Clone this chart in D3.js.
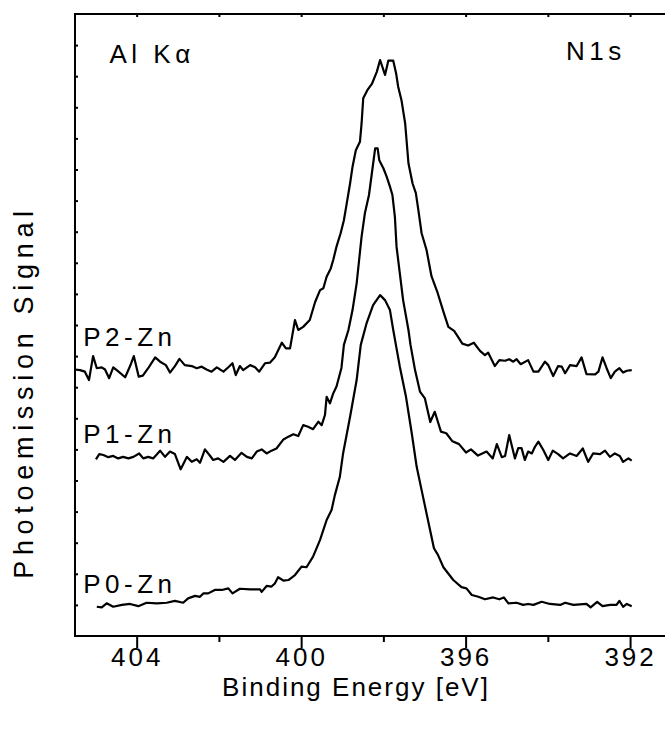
<!DOCTYPE html>
<html>
<head>
<meta charset="utf-8">
<script src="https://cdn.jsdelivr.net/npm/d3@7"></script>
<style>
  body { margin: 0; background: #fff; }
  text { font-family: "Liberation Sans", Arial, sans-serif; fill: #000; }
</style>
</head>
<body>
<div id="chart"></div>
<script>
// N1s spectra, binding energy [eV] vs signal (arb. units, offset per sample)
const p2Zn = [
  [405.50, 8.57], [405.38, 8.55], [405.26, 8.50], [405.16, 8.23], [405.06, 9.00], [404.97, 8.61],
  [404.85, 8.64], [404.77, 8.57], [404.67, 8.29], [404.57, 8.64], [404.47, 8.53], [404.28, 8.32],
  [404.16, 8.68], [404.07, 9.00], [403.95, 8.34], [403.85, 8.37], [403.72, 8.61], [403.55, 8.96],
  [403.43, 8.82], [403.29, 8.71], [403.19, 8.47], [403.07, 8.68], [402.96, 8.91], [402.83, 8.71],
  [402.66, 8.68], [402.54, 8.61], [402.42, 8.66], [402.30, 8.57], [402.18, 8.50], [402.05, 8.64],
  [401.89, 8.50], [401.77, 8.64], [401.67, 8.77], [401.59, 8.39], [401.49, 8.68], [401.41, 8.55],
  [401.24, 8.71], [401.12, 8.64], [401.02, 8.50], [400.88, 8.77], [400.76, 8.79], [400.64, 8.96],
  [400.47, 9.43], [400.37, 9.25], [400.27, 9.25], [400.15, 10.16], [400.07, 9.84], [399.95, 9.94],
  [399.79, 10.16], [399.66, 10.74], [399.54, 11.12], [399.46, 11.18], [399.38, 11.55], [399.28, 11.82],
  [399.22, 12.09], [399.14, 12.52], [399.04, 12.95], [398.96, 13.37], [398.89, 13.92], [398.81, 14.55],
  [398.75, 15.09], [398.67, 15.62], [398.57, 15.89], [398.53, 16.48], [398.49, 17.29], [398.39, 17.55],
  [398.28, 17.75], [398.16, 18.14], [398.08, 18.52], [397.96, 18.04], [397.88, 18.50], [397.76, 18.50],
  [397.69, 18.09], [397.64, 17.66], [397.56, 17.23], [397.47, 16.48], [397.39, 15.20], [397.29, 14.55],
  [397.21, 14.24], [397.15, 13.70], [397.07, 12.95], [396.95, 12.41], [396.83, 11.57], [396.68, 11.03],
  [396.54, 10.43], [396.42, 9.94], [396.28, 9.81], [396.18, 9.61], [396.08, 9.40], [395.94, 9.34],
  [395.80, 9.43], [395.65, 9.17], [395.53, 9.03], [395.45, 9.11], [395.29, 8.68], [395.18, 8.87],
  [395.04, 8.85], [394.94, 8.90], [394.84, 8.82], [394.76, 8.90], [394.66, 8.74], [394.48, 8.87],
  [394.35, 8.50], [394.23, 8.50], [394.07, 8.82], [393.99, 8.71], [393.87, 8.36], [393.75, 8.68],
  [393.66, 8.66], [393.58, 8.45], [393.46, 8.71], [393.30, 8.68], [393.18, 8.96], [393.06, 8.42],
  [392.85, 8.41], [392.77, 8.50], [392.67, 8.96], [392.57, 8.61], [392.47, 8.29], [392.37, 8.50],
  [392.26, 8.61], [392.17, 8.47], [392.08, 8.53], [391.96, 8.55]
];

const p1Zn = [
  [404.99, 5.68], [404.91, 5.85], [404.81, 5.82], [404.69, 5.75], [404.57, 5.79], [404.45, 5.71],
  [404.33, 5.76], [404.20, 5.71], [404.08, 5.76], [403.94, 5.87], [403.84, 5.71], [403.72, 5.76],
  [403.60, 5.71], [403.43, 5.96], [403.31, 5.76], [403.19, 5.93], [403.07, 5.85], [402.93, 5.36],
  [402.85, 5.57], [402.78, 5.76], [402.66, 5.60], [402.54, 5.68], [402.46, 5.57], [402.34, 6.00],
  [402.23, 5.82], [402.14, 5.66], [402.02, 5.71], [401.89, 5.60], [401.73, 5.79], [401.61, 5.66],
  [401.45, 5.89], [401.32, 5.76], [401.20, 5.71], [401.08, 5.93], [400.96, 6.00], [400.84, 5.87],
  [400.72, 5.96], [400.60, 6.03], [400.43, 6.32], [400.31, 6.41], [400.19, 6.49], [400.07, 6.43],
  [399.95, 6.78], [399.83, 6.73], [399.71, 6.65], [399.58, 6.89], [399.50, 6.78], [399.42, 7.11],
  [399.38, 7.69], [399.30, 7.48], [399.22, 7.80], [399.14, 8.02], [399.02, 8.62], [398.96, 9.36],
  [398.85, 9.84], [398.75, 10.48], [398.65, 11.34], [398.59, 12.09], [398.53, 12.84], [398.45, 13.59],
  [398.35, 14.18], [398.28, 14.88], [398.20, 15.68], [398.14, 15.68], [398.10, 15.30], [398.00, 15.04],
  [397.92, 14.77], [397.84, 14.45], [397.78, 14.18], [397.72, 13.48], [397.68, 12.52], [397.60, 11.66],
  [397.52, 10.80], [397.39, 9.84], [397.34, 9.36], [397.23, 8.55], [397.11, 7.86], [396.99, 7.64],
  [396.86, 6.88], [396.75, 7.21], [396.60, 6.57], [396.47, 6.52], [396.32, 6.26], [396.16, 6.17],
  [395.99, 5.90], [395.87, 6.00], [395.70, 5.80], [395.49, 5.93], [395.34, 5.71], [395.24, 6.17],
  [395.12, 5.75], [395.04, 5.79], [394.94, 6.46], [394.80, 5.71], [394.72, 6.04], [394.64, 6.04],
  [394.56, 5.66], [394.48, 5.93], [394.39, 5.87], [394.31, 6.09], [394.23, 6.25], [394.11, 5.98],
  [393.99, 5.66], [393.88, 5.96], [393.75, 5.85], [393.63, 5.71], [393.46, 5.87], [393.30, 5.79],
  [393.15, 6.03], [393.02, 5.60], [392.90, 5.87], [392.73, 5.85], [392.61, 5.96], [392.49, 5.76],
  [392.37, 5.87], [392.25, 5.79], [392.17, 5.60], [392.04, 5.71], [391.96, 5.64]
];

const p0Zn = [
  [404.97, 0.94], [404.85, 0.92], [404.73, 1.05], [404.57, 0.94], [404.36, 1.00], [404.16, 1.03],
  [403.96, 0.96], [403.76, 1.07], [403.51, 1.05], [403.27, 1.07], [403.07, 1.13], [402.87, 1.07],
  [402.75, 1.21], [402.58, 1.29], [402.46, 1.26], [402.38, 1.37], [402.26, 1.37], [402.10, 1.48],
  [401.93, 1.48], [401.77, 1.53], [401.67, 1.37], [401.49, 1.52], [401.24, 1.50], [401.00, 1.50],
  [400.96, 1.42], [400.84, 1.61], [400.72, 1.59], [400.64, 1.69], [400.56, 1.89], [400.43, 1.78],
  [400.31, 1.80], [400.15, 1.96], [399.99, 2.23], [399.87, 2.21], [399.71, 2.55], [399.54, 3.09],
  [399.38, 3.73], [399.26, 4.05], [399.18, 4.53], [399.06, 5.11], [398.98, 5.87], [398.81, 7.05],
  [398.65, 8.23], [398.55, 9.36], [398.41, 10.05], [398.25, 10.64], [398.08, 10.96], [397.96, 10.80],
  [397.84, 10.48], [397.76, 9.84], [397.69, 9.32], [397.60, 8.66], [397.45, 7.69], [397.31, 6.52],
  [397.19, 5.44], [397.07, 4.69], [396.95, 3.94], [396.77, 2.82], [396.67, 2.60], [396.54, 2.21],
  [396.30, 1.80], [396.10, 1.57], [395.98, 1.53], [395.85, 1.32], [395.69, 1.26], [395.53, 1.18],
  [395.33, 1.24], [395.18, 1.18], [395.07, 1.24], [394.96, 1.05], [394.76, 1.07], [394.60, 1.00],
  [394.48, 1.03], [394.35, 1.00], [394.15, 1.10], [393.95, 1.03], [393.70, 1.00], [393.58, 1.07],
  [393.38, 1.00], [393.06, 1.03], [392.96, 0.92], [392.80, 1.10], [392.67, 0.96], [392.49, 1.00],
  [392.33, 1.00], [392.26, 1.13], [392.17, 0.94], [392.08, 1.03], [391.96, 0.96]
];

const majorTicks = [404, 400, 396, 392];
const minorTicks = [402, 398, 394];
const yTicks = d3.range(1, 20);

// curve labels: [text, energy, signal at baseline]
const curveLabels = [["P2-Zn", 405.30, 9.32], ["P1-Zn", 405.30, 6.2], ["P0-Zn", 405.30, 1.39]];
const cornerLabels = [["Al K\u03b1", 404.66, 18.44], ["N1s", 393.56, 18.52]];

const W = 665, H = 729;
const margin = { left: 75, top: 14, bottom: 93 };

const x = d3.scaleLinear().domain([405.5, 391]).range([margin.left, margin.left + 14.5 * 41.117]);
const y = d3.scaleLinear().domain([0, 20]).range([H - margin.bottom, margin.top]);

const svg = d3.select("#chart").append("svg")
  .attr("width", W).attr("height", H);

const x0 = x.range()[0], x1 = x.range()[1];
const yb = y(0), yt = y(20);

// bottom axis
const gBottom = svg.append("g").attr("transform", "translate(0," + yb + ")");
gBottom.call(d3.axisBottom(x).tickValues(majorTicks).tickSize(12).tickPadding(0).tickFormat(d3.format("d")));
gBottom.append("g").call(d3.axisBottom(x).tickValues(minorTicks).tickSize(6).tickFormat(""));
gBottom.selectAll(".domain").remove();
gBottom.selectAll("line").attr("stroke", "#000").attr("stroke-width", 2);
gBottom.selectAll("text")
  .style("font-size", "26px").style("letter-spacing", "3px")
  .attr("dy", "0.71em").attr("fill", "#000");

// top axis (small inward ticks)
const gTop = svg.append("g").attr("transform", "translate(0," + yt + ")");
gTop.call(d3.axisBottom(x).tickValues(majorTicks.concat(minorTicks)).tickSize(3).tickFormat(""));
gTop.selectAll(".domain").remove();
gTop.selectAll("line").attr("stroke", "#000").attr("stroke-width", 2);

// left axis (small inward ticks)
const gLeft = svg.append("g").attr("transform", "translate(" + x0 + ",0)");
gLeft.call(d3.axisRight(y).tickValues(yTicks).tickSize(3).tickFormat(""));
gLeft.selectAll(".domain").remove();
gLeft.selectAll("line").attr("stroke", "#000").attr("stroke-width", 2);

// frame lines
svg.append("path")
  .attr("d", "M" + x1 + "," + yt + "H" + x0 + "V" + yb + "H" + x1)
  .attr("fill", "none").attr("stroke", "#000").attr("stroke-width", 2);

// spectra
const line = d3.line().x(d => x(d[0])).y(d => y(d[1]));
[p2Zn, p1Zn, p0Zn].forEach(s => {
  svg.append("path")
    .datum(s)
    .attr("fill", "none")
    .attr("stroke", "#000")
    .attr("stroke-width", 2.2)
    .attr("stroke-linejoin", "round")
    .attr("d", line);
});

// labels
svg.selectAll(".clabel").data(curveLabels.concat(cornerLabels)).enter()
  .append("text")
  .attr("x", d => x(d[1]))
  .attr("y", d => y(d[2]))
  .style("font-size", "26px")
  .style("letter-spacing", "4.5px")
  .text(d => d[0]);

svg.append("text")
  .attr("x", 356).attr("y", 696)
  .attr("text-anchor", "middle")
  .style("font-size", "26px").style("letter-spacing", "2px")
  .text("Binding Energy [eV]");

svg.append("text")
  .attr("transform", "translate(33,392) rotate(-90)")
  .attr("text-anchor", "middle")
  .style("font-size", "27px").style("letter-spacing", "5.7px")
  .text("Photoemission Signal");
</script>
</body>
</html>
